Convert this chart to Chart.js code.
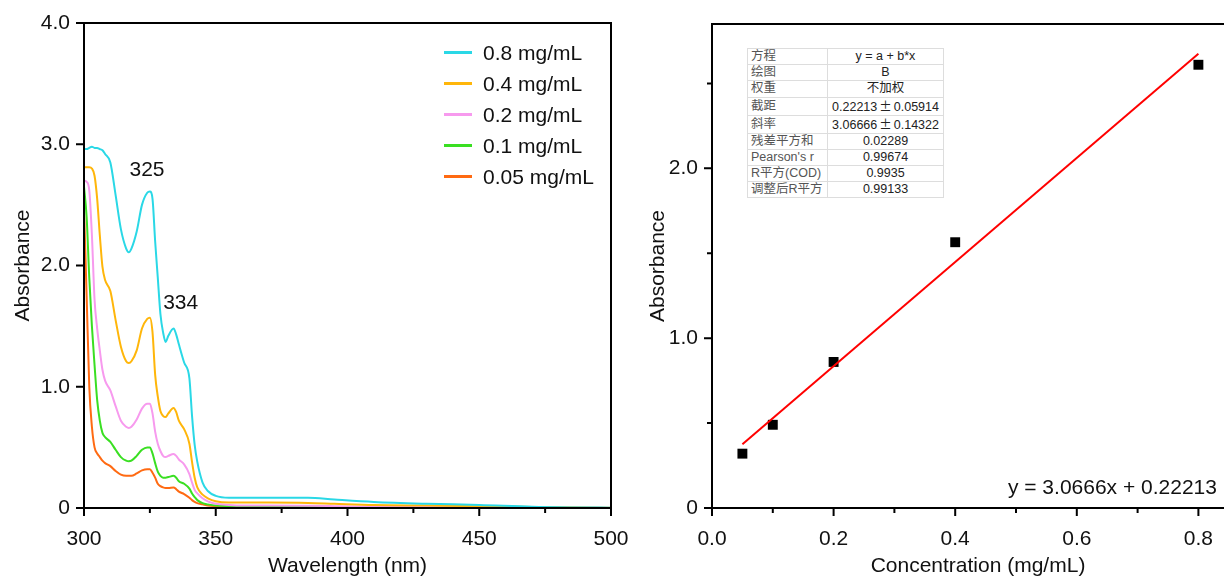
<!DOCTYPE html>
<html>
<head>
<meta charset="utf-8">
<script src="https://cdn.jsdelivr.net/npm/chart.js@4/dist/chart.umd.min.js"></script>
<style>
  html, body { margin: 0; padding: 0; background: #fff; overflow: hidden; }
  body { width: 1224px; height: 579px; position: relative; font-family: "Liberation Sans", Arial, sans-serif; }
  .box { position: absolute; top: 0; height: 579px; }
  #leftBox { left: 0; width: 640px; }
  #rightBox { left: 625px; width: 620px; }
  #legend { position: absolute; left: 444px; top: 37px; font-size: 21px; color: #111; }
  #legend .row { height: 31px; display: flex; align-items: center; }
  #legend .swatch { width: 28px; height: 2.5px; margin-right: 11px; }
  #fitTable { position: absolute; left: 747px; top: 48px; width: 197px; border-collapse: collapse;
    font-family: "Liberation Sans", "Noto Sans CJK SC", sans-serif; font-size: 12.5px; border: 1px solid #aaa; background: #fff; }
  #fitTable td { border: 1px solid #ddd; padding: 0; height: 15.2px; line-height: 15px; white-space: nowrap; }
  #fitTable td:first-child { width: 76px; padding-left: 3px; color: #555; }
  #fitTable td:last-child { text-align: center; color: #222; }
  #fitTable .pm { font-family: "Noto Sans CJK SC", sans-serif; padding: 0 2px; }
</style>
</head>
<body>
<div class="box" id="leftBox"><canvas id="spectra"></canvas></div>
<div class="box" id="rightBox"><canvas id="calib"></canvas></div>
<div id="legend"></div>
<table id="fitTable">
  <tr><td>方程</td><td>y = a + b*x</td></tr>
  <tr><td>绘图</td><td>B</td></tr>
  <tr><td>权重</td><td>不加权</td></tr>
  <tr><td>截距</td><td>0.22213<span class="pm">±</span>0.05914</td></tr>
  <tr><td>斜率</td><td>3.06666<span class="pm">±</span>0.14322</td></tr>
  <tr><td>残差平方和</td><td>0.02289</td></tr>
  <tr><td>Pearson's r</td><td>0.99674</td></tr>
  <tr><td>R平方(COD)</td><td>0.9935</td></tr>
  <tr><td>调整后R平方</td><td>0.99133</td></tr>
</table>
<script>
// spectra
const wavelengths = [300,301,302,303,304,305,306,307,308,310,312,314,316,317,318,320,322,324,325,326,327,328,329,330,331,332,334,335,336,338,340,341,342,343,345,347,350,355,360,370,385,395,410,430,450,470,485,500];
const abs08 = [2.96,2.96,2.97,2.98,2.97,2.97,2.96,2.95,2.92,2.85,2.58,2.30,2.14,2.11,2.14,2.28,2.50,2.60,2.61,2.55,2.20,1.90,1.60,1.45,1.37,1.42,1.48,1.43,1.35,1.20,1.07,0.76,0.52,0.38,0.21,0.14,0.10,0.085,0.085,0.085,0.085,0.07,0.05,0.035,0.025,0.01,0.005,0.003];
const abs04 = [2.81,2.81,2.81,2.80,2.74,2.55,2.25,1.99,1.88,1.79,1.55,1.33,1.21,1.195,1.21,1.30,1.48,1.56,1.57,1.45,1.10,0.92,0.80,0.76,0.75,0.78,0.825,0.79,0.72,0.65,0.53,0.38,0.25,0.17,0.11,0.08,0.055,0.045,0.045,0.045,0.042,0.035,0.025,0.02,0.015,0.008,0.004,0.002];
const abs02 = [2.70,2.69,2.62,2.25,1.72,1.48,1.30,1.14,1.05,0.97,0.84,0.72,0.67,0.66,0.67,0.73,0.82,0.86,0.86,0.78,0.63,0.53,0.47,0.43,0.42,0.43,0.445,0.43,0.40,0.36,0.28,0.21,0.15,0.12,0.08,0.055,0.035,0.025,0.02,0.02,0.018,0.015,0.01,0.008,0.006,0.004,0.002,0.001];
const abs01 = [2.65,2.40,1.90,1.50,1.18,0.89,0.72,0.62,0.585,0.545,0.48,0.42,0.39,0.385,0.39,0.43,0.48,0.50,0.50,0.45,0.37,0.30,0.265,0.25,0.25,0.255,0.265,0.25,0.22,0.20,0.16,0.12,0.09,0.065,0.04,0.03,0.02,0.015,0.012,0.01,0.01,0.008,0.006,0.005,0.004,0.003,0.002,0.001];
const abs005 = [2.48,1.75,1.00,0.67,0.50,0.45,0.42,0.39,0.37,0.345,0.305,0.275,0.265,0.265,0.265,0.285,0.31,0.32,0.32,0.29,0.25,0.20,0.18,0.17,0.165,0.165,0.17,0.155,0.135,0.115,0.085,0.065,0.05,0.04,0.03,0.02,0.015,0.01,0.008,0.008,0.007,0.006,0.005,0.004,0.003,0.002,0.001,0.001];
const spectra = [abs08, abs04, abs02, abs01, abs005];
const seriesLabels = ["0.8 mg/mL", "0.4 mg/mL", "0.2 mg/mL", "0.1 mg/mL", "0.05 mg/mL"];
const seriesColors = ["#2AD8E6", "#FFB60A", "#F79AEE", "#3ADF22", "#FF6A12"];

const peakLabels = ["325", "334"];
const peakX = [323.9, 336.7];
const peakY = [2.79, 1.69];

const wlMajor = [300, 350, 400, 450, 500];
const wlMinor = [325, 375, 425, 475];
const absMajor = [0, 1, 2, 3, 4];

// calibration
const concentrations = [0.05, 0.1, 0.2, 0.4, 0.8];
const absorbances = [0.32, 0.49, 0.86, 1.565, 2.61];
const fitX = [0.05, 0.8];
const fitY = [0.376, 2.675];
const fitText = "y = 3.0666x + 0.22213";

const concMajor = [0, 0.2, 0.4, 0.6, 0.8];
const concMinor = [0.1, 0.3, 0.5, 0.7];
const calMajor = [0, 1, 2];
const calMinor = [0.5, 1.5, 2.5];

Chart.defaults.font.family = '"Liberation Sans", Arial, sans-serif';
Chart.defaults.font.size = 21;
Chart.defaults.color = "#111";
Chart.defaults.animation = false;

// box frame + outward major/minor ticks
const frameTicks = {
  id: "frameTicks",
  afterDraw(chart, args, o){
    const { ctx, chartArea: a, scales } = chart;
    ctx.save();
    ctx.strokeStyle = "#000";
    ctx.lineWidth = 2;
    ctx.strokeRect(a.left, a.top, a.right - a.left, a.bottom - a.top);
    ctx.beginPath();
    (o.xMajor || []).forEach(v => { const p = scales.x.getPixelForValue(v); ctx.moveTo(p, a.bottom); ctx.lineTo(p, a.bottom + 8); });
    (o.xMinor || []).forEach(v => { const p = scales.x.getPixelForValue(v); ctx.moveTo(p, a.bottom); ctx.lineTo(p, a.bottom + 5); });
    (o.yMajor || []).forEach(v => { const p = scales.y.getPixelForValue(v); ctx.moveTo(a.left, p); ctx.lineTo(a.left - 8, p); });
    (o.yMinor || []).forEach(v => { const p = scales.y.getPixelForValue(v); ctx.moveTo(a.left, p); ctx.lineTo(a.left - 5, p); });
    ctx.stroke();
    ctx.restore();
  }
};

// text placed at data coordinates
const dataText = {
  id: "dataText",
  afterDatasetsDraw(chart, args, o){
    const { ctx, scales } = chart;
    ctx.save();
    ctx.font = '21px "Liberation Sans", Arial, sans-serif';
    ctx.fillStyle = "#111";
    ctx.textBaseline = "middle";
    (o.items || []).forEach(t => {
      ctx.textAlign = t.align || "center";
      ctx.fillText(t.text, scales.x.getPixelForValue(t.x), scales.y.getPixelForValue(t.y));
    });
    ctx.restore();
  }
};

function axis(min, max, ticks, fmt, title, titlePad, fitSize, horizontal){
  return {
    type: "linear", min, max,
    afterBuildTicks: s => { s.ticks = ticks.map(v => ({ value: v })); },
    afterFit: s => {
      if (horizontal) s.height = fitSize; else s.width = fitSize;
      // layout padding alone decides the plot box
      s.paddingTop = s.paddingBottom = s.paddingLeft = s.paddingRight = 0;
    },
    grid: { display: false, drawTicks: false },
    border: { display: false },
    ticks: { callback: fmt, padding: horizontal ? 19 : 14, color: "#111", maxRotation: 0, autoSkip: false },
    title: { display: true, text: title, color: "#111", padding: { top: titlePad, bottom: 0 } }
  };
}

// legend
const legendEl = document.getElementById("legend");
seriesLabels.forEach((lab, i) => {
  const row = document.createElement("div");
  row.className = "row";
  row.innerHTML = '<span class="swatch" style="background:' + seriesColors[i] + '"></span><span>' + lab + '</span>';
  legendEl.appendChild(row);
});

new Chart(document.getElementById("spectra"), {
  type: "scatter",
  data: {
    datasets: spectra.map((ys, i) => ({
      label: seriesLabels[i],
      data: wavelengths.map((w, j) => ({ x: w, y: ys[j] })),
      showLine: true,
      borderColor: seriesColors[i],
      borderWidth: 2,
      pointRadius: 0,
      tension: 0.4,
      cubicInterpolationMode: "monotone"
    }))
  },
  options: {
    responsive: true,
    maintainAspectRatio: false,
    layout: { autoPadding: false, padding: { top: 23, right: 29, left: 0, bottom: 0 } },
    plugins: {
      legend: { display: false },
      tooltip: { enabled: false },
      frameTicks: { xMajor: wlMajor, xMinor: wlMinor, yMajor: absMajor },
      dataText: { items: peakLabels.map((t, i) => ({ text: t, x: peakX[i], y: peakY[i] })) }
    },
    scales: {
      x: axis(300, 500, wlMajor, v => String(v), "Wavelength (nm)", 0, 71, true),
      y: axis(0, 4, absMajor, v => v === 0 ? "0" : v.toFixed(1), "Absorbance", 11, 84, false)
    }
  },
  plugins: [frameTicks, dataText]
});

new Chart(document.getElementById("calib"), {
  type: "scatter",
  data: {
    datasets: [
      {
        label: "Fit",
        data: fitX.map((x, i) => ({ x, y: fitY[i] })),
        showLine: true,
        borderColor: "#FF0000",
        borderWidth: 2,
        pointRadius: 0
      },
      {
        label: "B",
        data: concentrations.map((c, i) => ({ x: c, y: absorbances[i] })),
        pointStyle: "rect",
        pointRadius: 7,
        backgroundColor: "#000",
        borderColor: "#000",
        borderWidth: 0
      }
    ]
  },
  options: {
    responsive: true,
    maintainAspectRatio: false,
    layout: { autoPadding: false, padding: { top: 24, right: 1, left: 0, bottom: 0 } },
    plugins: {
      legend: { display: false },
      tooltip: { enabled: false },
      frameTicks: { xMajor: concMajor, xMinor: concMinor, yMajor: calMajor, yMinor: calMinor },
      dataText: { items: [{ text: fitText, x: 0.8305, y: 0.118, align: "right" }] }
    },
    scales: {
      x: axis(0, 0.875, concMajor, v => v.toFixed(1), "Concentration (mg/mL)", 0, 71, true),
      y: axis(0, 2.85, calMajor, v => v === 0 ? "0" : v.toFixed(1), "Absorbance", 21, 87, false)
    }
  },
  plugins: [frameTicks, dataText]
});
</script>
</body>
</html>
